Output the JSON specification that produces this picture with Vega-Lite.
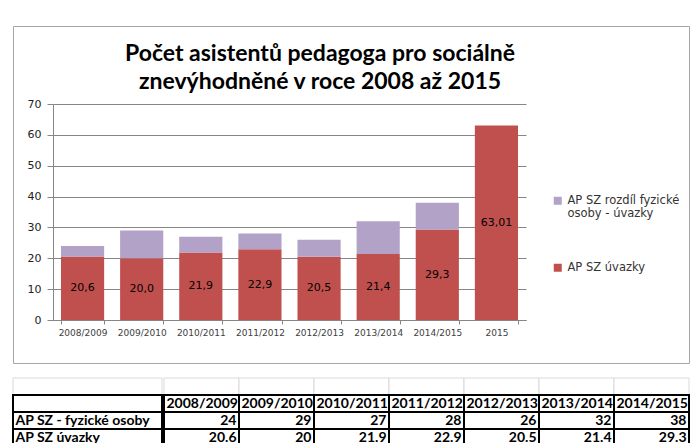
{
  "$schema": "https://vega.github.io/schema/vega-lite/v6.json",
  "background": "white",
  "padding": {"left": 12, "top": 25, "right": 0, "bottom": 0},
  "config": {"view": {"stroke": null}},
  "datasets": {
    "chart": [
      {"rok": "2008/2009", "rada": "AP SZ úvazky", "hodnota": 20.6, "popisek": "20,6"},
      {"rok": "2008/2009", "rada": "AP SZ rozdíl fyzické osoby - úvazky", "hodnota": 3.4, "popisek": ""},
      {"rok": "2009/2010", "rada": "AP SZ úvazky", "hodnota": 20.0, "popisek": "20,0"},
      {"rok": "2009/2010", "rada": "AP SZ rozdíl fyzické osoby - úvazky", "hodnota": 9.0, "popisek": ""},
      {"rok": "2010/2011", "rada": "AP SZ úvazky", "hodnota": 21.9, "popisek": "21,9"},
      {"rok": "2010/2011", "rada": "AP SZ rozdíl fyzické osoby - úvazky", "hodnota": 5.1, "popisek": ""},
      {"rok": "2011/2012", "rada": "AP SZ úvazky", "hodnota": 22.9, "popisek": "22,9"},
      {"rok": "2011/2012", "rada": "AP SZ rozdíl fyzické osoby - úvazky", "hodnota": 5.1, "popisek": ""},
      {"rok": "2012/2013", "rada": "AP SZ úvazky", "hodnota": 20.5, "popisek": "20,5"},
      {"rok": "2012/2013", "rada": "AP SZ rozdíl fyzické osoby - úvazky", "hodnota": 5.5, "popisek": ""},
      {"rok": "2013/2014", "rada": "AP SZ úvazky", "hodnota": 21.4, "popisek": "21,4"},
      {"rok": "2013/2014", "rada": "AP SZ rozdíl fyzické osoby - úvazky", "hodnota": 10.6, "popisek": ""},
      {"rok": "2014/2015", "rada": "AP SZ úvazky", "hodnota": 29.3, "popisek": "29,3"},
      {"rok": "2014/2015", "rada": "AP SZ rozdíl fyzické osoby - úvazky", "hodnota": 8.7, "popisek": ""},
      {"rok": "2015", "rada": "AP SZ úvazky", "hodnota": 63.01, "popisek": "63,01"}
    ],
    "tableLabels": [
      {"row": "e", "text": ""},
      {"row": "h", "text": ""},
      {"row": "a", "text": "AP SZ - fyzické osoby"},
      {"row": "b", "text": "AP SZ úvazky"}
    ],
    "tableValues": [
      {"col": "2008/2009", "row": "e", "text": ""},
      {"col": "2009/2010", "row": "e", "text": ""},
      {"col": "2010/2011", "row": "e", "text": ""},
      {"col": "2011/2012", "row": "e", "text": ""},
      {"col": "2012/2013", "row": "e", "text": ""},
      {"col": "2013/2014", "row": "e", "text": ""},
      {"col": "2014/2015", "row": "e", "text": ""},
      {"col": "2008/2009", "row": "h", "text": "2008/2009"},
      {"col": "2008/2009", "row": "a", "text": "24"},
      {"col": "2008/2009", "row": "b", "text": "20.6"},
      {"col": "2009/2010", "row": "h", "text": "2009/2010"},
      {"col": "2009/2010", "row": "a", "text": "29"},
      {"col": "2009/2010", "row": "b", "text": "20"},
      {"col": "2010/2011", "row": "h", "text": "2010/2011"},
      {"col": "2010/2011", "row": "a", "text": "27"},
      {"col": "2010/2011", "row": "b", "text": "21.9"},
      {"col": "2011/2012", "row": "h", "text": "2011/2012"},
      {"col": "2011/2012", "row": "a", "text": "28"},
      {"col": "2011/2012", "row": "b", "text": "22.9"},
      {"col": "2012/2013", "row": "h", "text": "2012/2013"},
      {"col": "2012/2013", "row": "a", "text": "26"},
      {"col": "2012/2013", "row": "b", "text": "20.5"},
      {"col": "2013/2014", "row": "h", "text": "2013/2014"},
      {"col": "2013/2014", "row": "a", "text": "32"},
      {"col": "2013/2014", "row": "b", "text": "21.4"},
      {"col": "2014/2015", "row": "h", "text": "2014/2015"},
      {"col": "2014/2015", "row": "a", "text": "38"},
      {"col": "2014/2015", "row": "b", "text": "29.3"}
    ]
  },
  "spacing": 13,
  "vconcat": [
    {
      "width": 676,
      "height": 337,
      "view": {"stroke": "#A6A6A6", "strokeWidth": 1},
      "data": {"name": "chart"},
      "title": {
        "text": ["Počet asistentů pedagoga pro sociálně", "znevýhodněné v roce 2008 až 2015"],
        "font": "Lato", "fontSize": 23, "fontWeight": "bold", "color": "black",
        "anchor": "middle", "dx": -31, "offset": -68, "lineHeight": 28
      },
      "encoding": {
        "x": {
          "field": "rok", "type": "ordinal", "sort": null,
          "scale": {"range": [40, 513], "paddingInner": 0.27, "paddingOuter": 0.135},
          "axis": {
            "title": null, "labelAngle": 0, "labelFont": "DejaVu Sans", "labelFontSize": 9,
            "labelColor": "#404040", "tickBand": "extent", "tickSize": 4, "labelPadding": 4,
            "domainColor": "#868686", "tickColor": "#868686", "offset": -43
          }
        }
      },
      "layer": [
        {
          "mark": {"type": "bar"},
          "encoding": {
            "y": {
              "field": "hodnota", "type": "quantitative", "stack": "zero",
              "scale": {"domain": [0, 70], "nice": false, "range": [294, 78]},
              "axis": {
                "title": null, "values": [0, 10, 20, 30, 40, 50, 60, 70],
                "grid": true, "gridColor": "#868686", "domainColor": "#868686", "tickColor": "#868686",
                "tickSize": 6, "labelPadding": 6, "labelFont": "DejaVu Sans", "labelFontSize": 11,
                "labelColor": "#222222", "offset": -40
              }
            },
            "color": {
              "field": "rada", "type": "nominal",
              "scale": {
                "domain": ["AP SZ rozdíl fyzické osoby - úvazky", "AP SZ úvazky"],
                "range": ["#B3A2C7", "#C0504D"]
              },
              "legend": {
                "title": null, "orient": "none", "legendX": 539, "legendY": 169,
                "symbolType": "square", "symbolSize": 64, "symbolStrokeWidth": 0,
                "labelFont": "DejaVu Sans", "labelFontSize": 11.5, "labelColor": "#333333",
                "labelLimit": 300, "rowPadding": 41,
                "labelExpr": "datum.label == 'AP SZ rozdíl fyzické osoby - úvazky' ? ['AP SZ rozdíl fyzické', 'osoby - úvazky'] : datum.label"
              }
            },
            "order": {"field": "rada", "sort": "descending"}
          }
        },
        {
          "transform": [{"filter": "datum.rada == 'AP SZ úvazky'"}],
          "mark": {"type": "text", "font": "DejaVu Sans", "fontSize": 11, "color": "black"},
          "encoding": {
            "y": {
              "field": "hodnota", "type": "quantitative", "stack": "zero", "bandPosition": 0.5,
              "scale": {"domain": [0, 70], "nice": false, "range": [294, 78]},
              "axis": {
                "title": null, "values": [0, 10, 20, 30, 40, 50, 60, 70],
                "grid": true, "gridColor": "#868686", "domainColor": "#868686", "tickColor": "#868686",
                "tickSize": 6, "labelPadding": 6, "labelFont": "DejaVu Sans", "labelFontSize": 11,
                "labelColor": "#222222", "offset": -40
              }
            },
            "text": {"field": "popisek"}
          }
        }
      ]
    },
    {
      "spacing": 0,
      "hconcat": [
        {
          "width": 149,
          "height": 68,
          "data": {"name": "tableLabels"},
          "encoding": {
            "y": {"field": "row", "type": "ordinal", "sort": ["e", "h", "a", "b"], "axis": null,
                  "scale": {"paddingInner": 0, "paddingOuter": 0}}
          },
          "layer": [
            {
              "mark": {"type": "bar", "fill": "white"},
              "encoding": {
                "stroke": {"condition": {"test": "datum.row == 'e'", "value": "#D9D9D9"}, "value": "black"},
                "strokeWidth": {"condition": {"test": "datum.row == 'e'", "value": 1}, "value": 2}
              }
            },
            {
              "mark": {"type": "text", "align": "left", "dx": -72, "font": "Lato", "fontSize": 14, "fontWeight": "bold", "color": "black"},
              "encoding": {"text": {"field": "text"}}
            }
          ]
        },
        {
          "width": 525,
          "height": 68,
          "data": {"name": "tableValues"},
          "encoding": {
            "x": {"field": "col", "type": "ordinal", "sort": null, "axis": null,
                  "scale": {"paddingInner": 0, "paddingOuter": 0}},
            "y": {"field": "row", "type": "ordinal", "sort": ["e", "h", "a", "b"], "axis": null,
                  "scale": {"paddingInner": 0, "paddingOuter": 0}}
          },
          "layer": [
            {
              "mark": {"type": "rect", "fill": "white"},
              "encoding": {
                "stroke": {"condition": {"test": "datum.row == 'e'", "value": "#D9D9D9"}, "value": "black"},
                "strokeWidth": {"condition": {"test": "datum.row == 'e'", "value": 1}, "value": 2}
              }
            },
            {
              "transform": [{"filter": "datum.row == 'h'"}],
              "mark": {"type": "text", "align": "left", "dx": -35, "font": "Lato", "fontSize": 14, "fontWeight": "bold", "color": "black"},
              "encoding": {"text": {"field": "text"}}
            },
            {
              "transform": [{"filter": "datum.row == 'a' || datum.row == 'b'"}],
              "mark": {"type": "text", "align": "right", "dx": 35, "font": "Lato", "fontSize": 14, "fontWeight": "bold", "color": "black"},
              "encoding": {"text": {"field": "text"}}
            }
          ]
        }
      ]
    }
  ]
}
